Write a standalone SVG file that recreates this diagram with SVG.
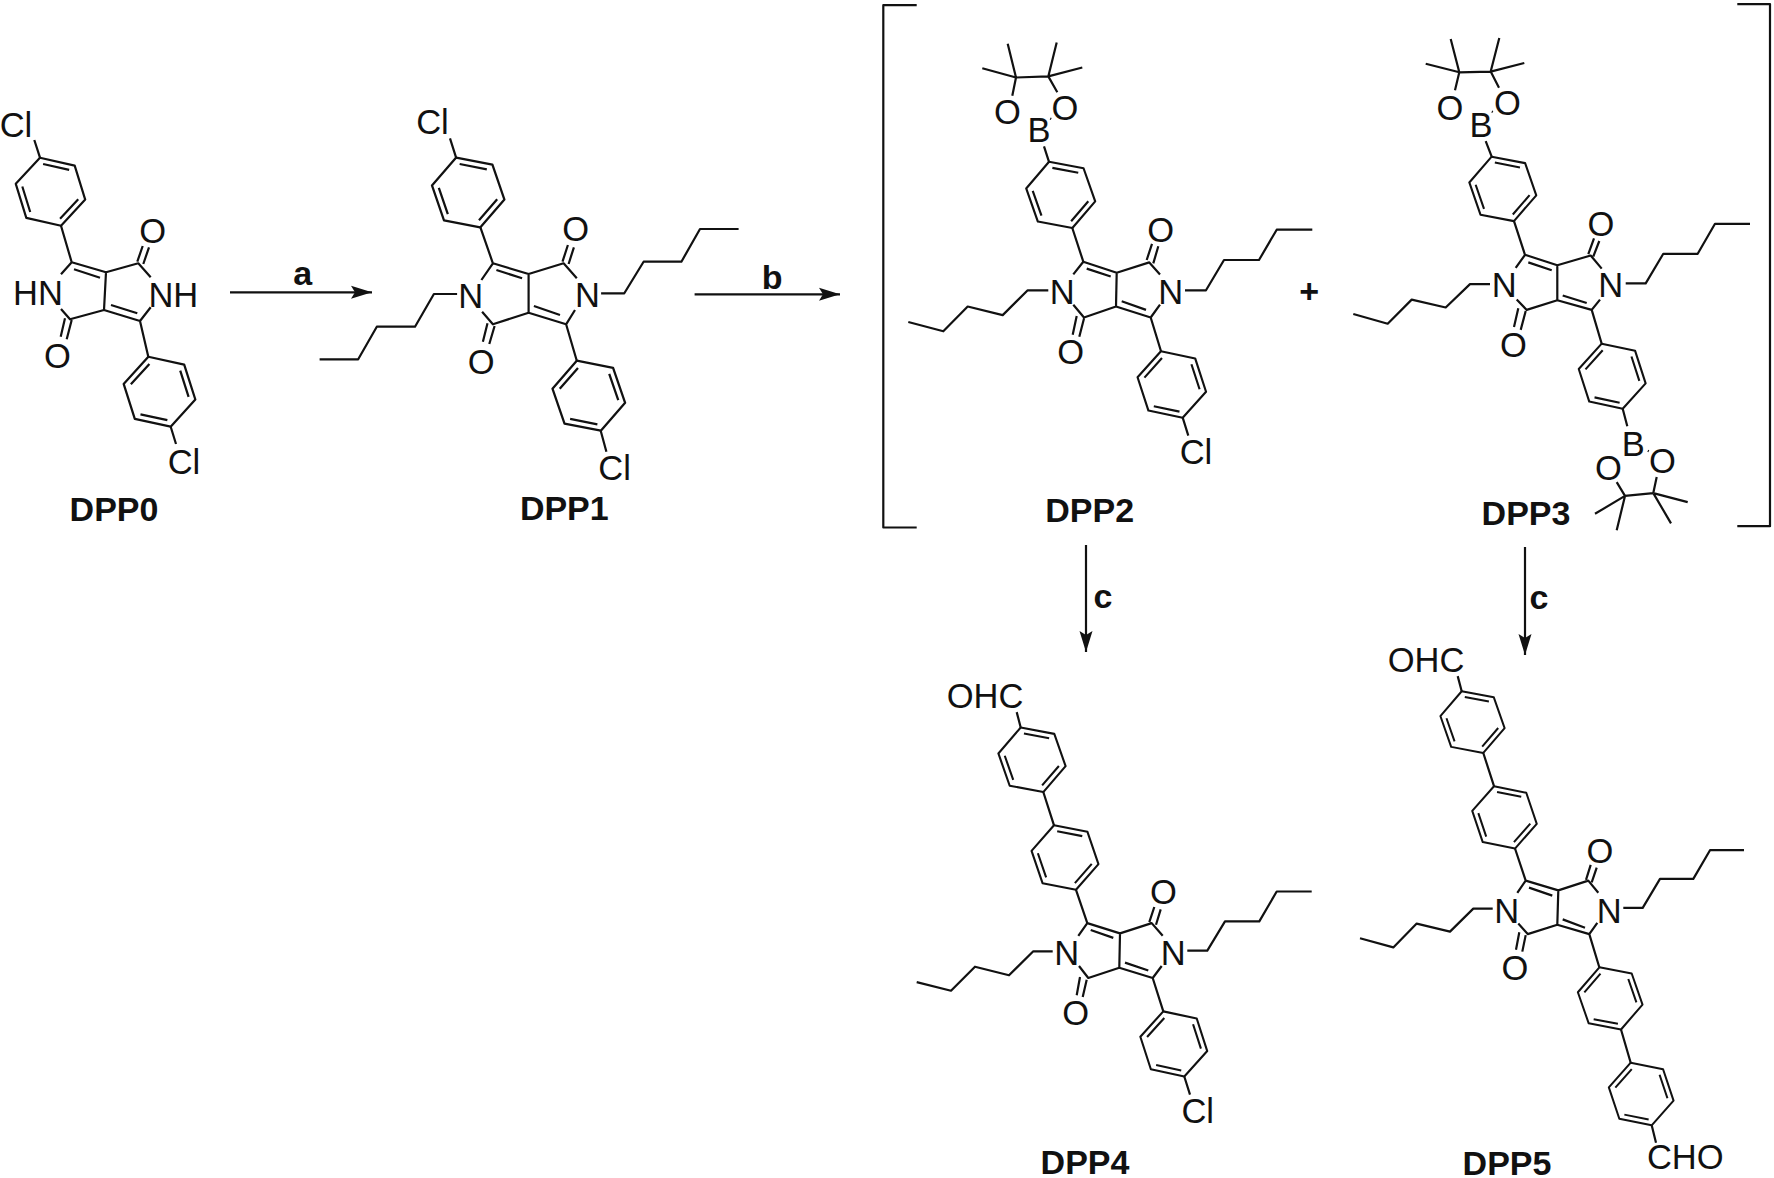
<svg xmlns="http://www.w3.org/2000/svg" width="1774" height="1178" viewBox="0 0 1774 1178">
<style>
.mol path,.mol use,#connectors path,#brackets path{fill:none;stroke:#111;stroke-width:2.2;stroke-linejoin:round}
text{font-family:"Liberation Sans",Arial,sans-serif;font-size:34.5px;fill:#111;text-anchor:middle;transform:translateY(1px)}
.lb{font-weight:bold;font-size:34px}
</style>
<defs>
<g id="ring"><path d="M0,-36L31.18,-18L31.18,18L0,36L-31.18,18L-31.18,-18ZM1.15,-29L24.55,-15.5M1.15,29L24.55,15.5M-25.66,-13.5L-25.66,13.5"/></g>
<marker id="ah" markerUnits="userSpaceOnUse" markerWidth="22" markerHeight="14" refX="21" refY="7" orient="auto"><path d="M0,0.5L21,7L0,13.5L4,7Z" style="fill:#111;stroke:none"/></marker>
</defs>
<rect width="1774" height="1178" fill="#fff"/>

<g id="connectors">
<path d="M230,292.3H372" marker-end="url(#ah)"/>
<path d="M694.6,294.3H840" marker-end="url(#ah)"/>
<path d="M1086,545V652" marker-end="url(#ah)"/>
<path d="M1525,547V655" marker-end="url(#ah)"/>
</g>
<g id="brackets">
<path d="M916.7,5.2H883.3V527.5H916.7"/>
<path d="M1737.3,4.1H1770V526.2H1737.3"/>
</g>
<g id="reagents">
<text class="lb" x="302.7" y="283.8">a</text>
<text class="lb" x="772.1" y="288.2">b</text>
<text class="lb" x="1103" y="607">c</text>
<text class="lb" x="1539" y="608">c</text>
<text class="lb" x="1309.3" y="302">+</text>
</g>

<g id="DPP0" class="mol">
<use href="#ring" transform="translate(50.5,191.7) rotate(-17.2) scale(.989)"/>
<use href="#ring" transform="translate(159.5,391.7) rotate(162.3) scale(1.019)"/>
<path d="M40,157.7L34.3,140M61,225.7L71.7,262.3M61,274.3L71.7,262.3L106,272.3L104,310L140,321L150.7,307.3M150.7,277.3L138.3,263.3L106,272.3M104,310L70,319.3L61,309M140,321L148.3,356.7M74,269.3L100,277.7M111,305L137.3,313.3M137.3,261.7L142.7,246M143.3,264L149,247.3M65,318.3L60.7,336.7M71.7,320L66.7,339.3M170.7,426.7L176,444"/>
<text x="16" y="135.7">Cl</text><text x="152.7" y="242.3">O</text><text x="38" y="304">HN</text><text x="173.3" y="306">NH</text><text x="57.3" y="366.7">O</text><text x="184" y="473.3">Cl</text>
<text class="lb" x="114" y="520">DPP0</text>
</g>

<g id="DPP1" class="mol">
<use href="#ring" transform="translate(468.2,192.5) rotate(-19) scale(1.025)"/>
<use href="#ring" transform="translate(588.8,395.7) rotate(161) scale(1.028)"/>
<path d="M456.1,157.7L450,138.3M480.4,227.3L492.9,263.3M481.4,280L492.9,263.3L528.6,274L528.6,312.7L566.1,324.3L575,310M576.8,278.3L563.6,263.3L528.6,274M528.6,312.7L492.9,324.3L482.1,311.7M566.1,324.3L576.8,360.7M496.4,270L522.1,278.3M533.9,306L560,315M562.5,261.7L567.9,245M568.6,264L573.9,247.3M487.5,323.3L482.9,341.7M494.6,326L489.3,344M600.7,430.7L606.4,451.7M457.1,294L433.9,294L415,326.7L376.8,326.7L358.2,359.3L319.6,359.3M601.1,293.3L624.3,293.3L643.6,261.7L681.4,261.7L700,229L738.6,229"/>
<text x="432.5" y="133.3">Cl</text><text x="614.6" y="479.3">Cl</text><text x="470.7" y="307.3">N</text><text x="587.5" y="306">N</text><text x="575.7" y="240">O</text><text x="481.1" y="372.7">O</text>
<text class="lb" x="564.3" y="518.7">DPP1</text>
</g>

<g id="DPP2" class="mol">
<use href="#ring" transform="translate(1060.7,194.9) rotate(-19.4) scale(.975)"/>
<use href="#ring" transform="translate(1171.8,384.5) rotate(161.9) scale(.972)"/>
<path d="M1072.3,228L1083.3,261.7M1073.3,274.4L1083.3,261.7L1116.7,272.7L1116,306.5L1150.7,317.5L1160,304.7M1160,274.4L1149.3,262.4L1116.7,272.7M1116,306.5L1084,317.5L1073.3,304.7M1150.7,317.5L1161,351.2M1086.7,268.6L1110.7,276.5M1121.7,301.3L1146,309.9M1146.7,260L1152,243.8M1153.3,263.4L1158.3,246.2M1076.7,316.1L1072.7,334.7M1084,318.5L1079.3,336.8M1048.3,290.3L1027.7,290.3L1002.7,315.1L967.7,306.5L943.3,331.3L908.3,322M1185,290.3L1206,290.3L1224,260L1259,260L1276.7,229.7L1312.3,229.7M1049,161.8L1044,146.3M1016,77.5L1048.3,76.4M1016,77.5L1012.3,95.7M1048.3,76.4L1057.3,92.3M1016,77.5L1007.7,43.7M1016,77.5L982.3,68.2M1048.3,76.4L1056.7,42.4M1048.3,76.4L1082.3,67.5M1050.2,118.5L1051.2,119M1182.7,417.7L1188.3,435.6"/>
<text x="1160.7" y="241">O</text><text x="1070.7" y="363.3">O</text><text x="1062.3" y="303">N</text><text x="1170.7" y="303">N</text><text x="1039" y="141.2">B</text><text x="1007.3" y="123.3">O</text><text x="1065" y="118.8">O</text><text x="1196" y="463.2">Cl</text>
<text class="lb" x="1089.7" y="521.3">DPP2</text>
</g>

<g id="DPP3" class="mol">
<use href="#ring" transform="translate(1502.8,188.9) rotate(-19.1) scale(.947)"/>
<use href="#ring" transform="translate(1612.2,376.2) rotate(162.1) scale(.95)"/>
<path d="M1514,221.1L1525,254.8M1515.7,267.9L1525,254.8L1557.3,265.2L1557.3,300.3L1591.7,309.9L1600,299.6M1601.7,268.6L1590.7,255.5L1557.3,265.2M1557.3,300.3L1526.7,309.9L1516.7,299.6M1591.7,309.9L1601.7,343.7M1528.3,262.4L1551.7,270.3M1562.7,295.5L1586.7,303M1588.3,254.1L1594,238.3M1593.3,256.5L1599.3,241M1518.3,308.2L1514,327.1M1525.7,311L1520.7,329.9M1490,284.1L1470,284.1L1445.7,307.5L1411.7,299.6L1387.7,323.7L1353.3,314M1625.7,283.4L1645.7,283.4L1663.3,253.8L1697.7,253.8L1715,223.8L1750,223.8M1491.7,156.7L1485.7,141.2M1459.3,72.3L1490.7,71.6M1459.3,72.3L1455,90.2M1490.7,71.6L1499,87.8M1459.3,72.3L1450.7,38.9M1459.3,72.3L1425.7,63.7M1490.7,71.6L1499.3,37.9M1490.7,71.6L1524.3,63M1491.8,111.6L1492.8,112.1M1622.7,408.7L1627.3,426.3M1625,495.9L1653.3,493.1M1625,495.9L1616.7,482.1M1653.3,493.1L1656.7,476.9M1625,495.9L1595,513.8M1625,495.9L1616.7,530.3M1653.3,493.1L1687.7,502.1M1653.3,493.1L1671,523.4M1647.8,450.8L1648.8,451.3"/>
<text x="1601" y="234.8">O</text><text x="1513.3" y="356.4">O</text><text x="1504.3" y="296.1">N</text><text x="1610.7" y="296.1">N</text><text x="1481" y="136">B</text><text x="1450" y="118.8">O</text><text x="1507.3" y="114.3">O</text><text x="1633.3" y="454.5">B</text><text x="1608.3" y="479.3">O</text><text x="1662.3" y="472.4">O</text>
<text class="lb" x="1526" y="524.1">DPP3</text>
</g>

<g id="DPP4" class="mol">
<use href="#ring" transform="translate(1032,759.8) rotate(-19.3) scale(.95)"/>
<use href="#ring" transform="translate(1065,857.5) rotate(-18.8) scale(.947)"/>
<use href="#ring" transform="translate(1173.8,1043.9) rotate(162.1) scale(.95)"/>
<path d="M1020.7,727.5L1016.7,712.1M1043.3,792L1054,825.3M1076,889.8L1087.3,923.1M1078.3,935.8L1087.3,923.1L1120,933.4L1119.3,967.7L1152.7,978L1161.7,966M1162.7,935.8L1151.7,923.1L1120,933.4M1119.3,967.7L1088.3,978L1079,966M1152.7,978L1163.3,1011.3M1090.7,930L1113.3,937.9M1125,962.6L1148.3,970.5M1149.3,922.1L1154.3,907M1156,924.8L1160.7,909.4M1080,977L1076.7,995.2M1086.7,979.7L1082.7,996.9M1052.7,951.3L1033.3,951.3L1009,975.3L975,966.7L951,990.7L916.7,982.1M1187.3,950.6L1207.3,950.6L1225,921.4L1259.3,921.4L1276.7,891.5L1311.7,891.5M1184.3,1076.5L1190,1094.7"/>
<text x="985" y="706.9">OHC</text><text x="1163.3" y="903.2">O</text><text x="1075.7" y="1024.3">O</text><text x="1066.7" y="963.6">N</text><text x="1173.3" y="963.6">N</text><text x="1197.7" y="1122.1">Cl</text>
<text class="lb" x="1085" y="1172.5">DPP4</text>
</g>

<g id="DPP5" class="mol">
<use href="#ring" transform="translate(1472.5,722.1) rotate(-19.3) scale(.908)"/>
<use href="#ring" transform="translate(1504.5,817.4) rotate(-18.6) scale(.914)"/>
<use href="#ring" transform="translate(1610.2,998.4) rotate(160.8) scale(.914)"/>
<use href="#ring" transform="translate(1641.2,1094) rotate(161.5) scale(.917)"/>
<path d="M1461.7,691.2L1457.7,676.1M1483.3,753L1494,786.2M1515,848.5L1525.7,880.6M1517.3,892.8L1525.7,880.6L1558.3,890.4L1557.3,924.7L1589.3,934.1L1597.3,922.9M1598.3,892.8L1588.3,880.6L1558.3,890.4M1557.3,924.7L1527.7,934.1L1518.3,923.6M1589.3,934.1L1599.3,967.3M1621,1029.5L1630.7,1062.7M1651.7,1125.3L1656,1142.8M1529,887.6L1552.3,895.6M1562.7,919.4L1585,927.8M1586,879.9L1590.7,864.9M1591.7,882.4L1596.7,867.7M1519.3,932.3L1516,949.8M1525.7,935.1L1522.3,951.6M1492.7,908.6L1473.3,908.6L1450,931.6L1416.7,923.6L1393.3,947.4L1360,938.3M1623.3,907.9L1642.7,907.9L1660,878.9L1693.3,878.9L1710,850.2L1744,850.2"/>
<text x="1426" y="671.2">OHC</text><text x="1600" y="861.7">O</text><text x="1515" y="978.8">O</text><text x="1506.7" y="921.9">N</text><text x="1609.3" y="921.9">N</text><text x="1685.3" y="1168.3">CHO</text>
<text class="lb" x="1507" y="1173.5">DPP5</text>
</g>
</svg>
